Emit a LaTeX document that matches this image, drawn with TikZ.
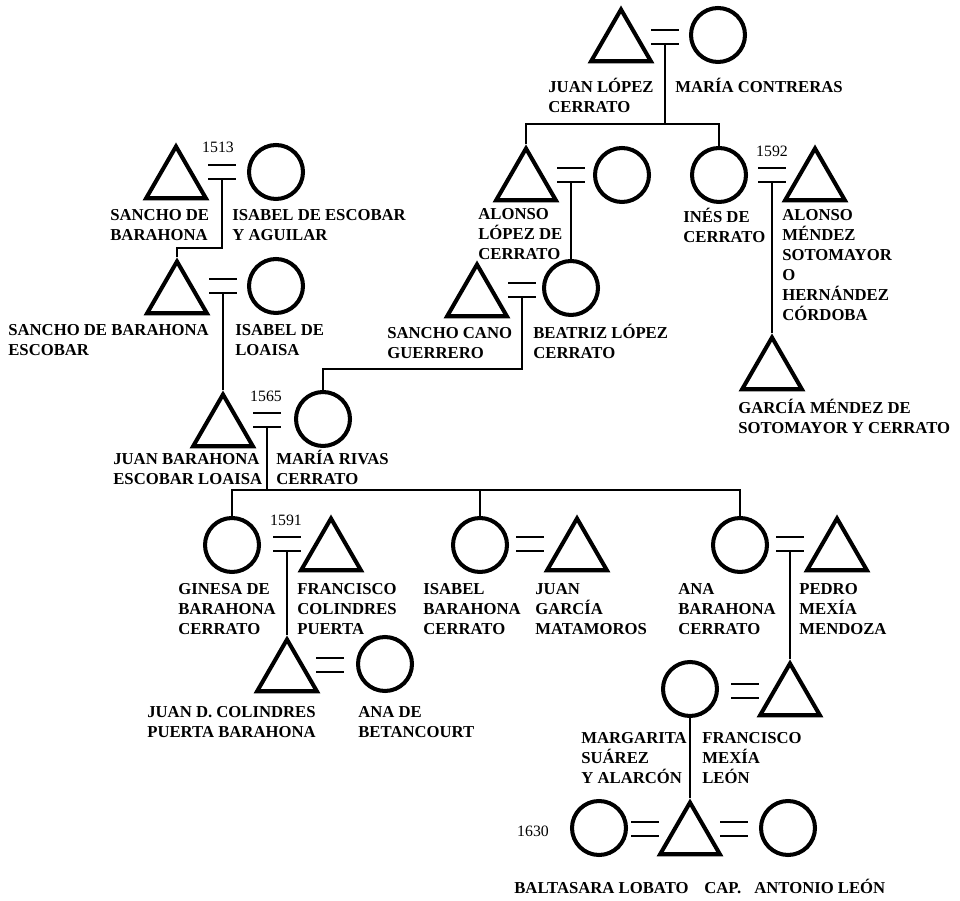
\documentclass[tikz,border=0pt]{standalone}
\usepackage{fontspec}
\setmainfont{Liberation Serif}
\usetikzlibrary{shapes.geometric}
\newcommand{\namefont}{\fontsize{9.5}{11.4}\selectfont\bfseries}
\newcommand{\wed}[3]{% name, x, y
  \coordinate (#1) at (#2,#3);
  \draw [wedline] ([shift={(-14,-7)}]#1) -- ++(28,0);
  \draw [wedline] ([shift={(-14,7)}]#1) -- ++(28,0);
  \coordinate (#1-d) at ([shift={(0,7)}]#1);}

\begin{document}
\begin{tikzpicture}[x=0.02cm,y=-0.02cm,
    male/.style={regular polygon,regular polygon sides=3,draw,line width=2.3pt,minimum size=1.38cm,inner sep=0pt},
    female/.style={circle,draw,line width=2.3pt,minimum size=1.08cm,inner sep=0pt},
    rel/.style={line width=1.1pt},
    wedline/.style={line width=1.6pt},
    who/.style={anchor=base west,align=left,inner sep=0pt,font=\namefont},
    year/.style={inner sep=0pt,font=\fontsize{9}{10}\selectfont}]
    \useasboundingbox (0,0) rectangle (960,901);

    %Lopez Cerrato
    \node [male] (jlc) at (621,44){};
    \node [female] (mco) at (718,35){};
    \wed{w0}{665}{37}
    \node [who] at (548,112.5){JUAN LÓPEZ\\CERRATO};
    \node [who] at (675,92.5){MARÍA CONTRERAS};
    \node [male] (alc) at (526,183){};
    \node [female] (alw) at (622,175){};
    \wed{w1}{571}{175}
    \node [female] (ine) at (719,175){};
    \wed{w2}{772}{175}
    \node [year] at (772,151){1592};
    \node [male] (ams) at (815,183){};
    \draw [rel] (w0-d) -- ++(0,80) coordinate (bar0);
    \draw [rel] (alc.north) |- (bar0) -| (ine.north);
    \node [who] at (478,259.5){ALONSO\\LÓPEZ DE\\CERRATO};
    \node [who] at (683,242.5){INÉS DE\\CERRATO};
    \node [who] at (782,320.5){ALONSO\\MÉNDEZ\\SOTOMAYOR\\O\\HERNÁNDEZ\\CÓRDOBA};
    \node [male] (scg) at (477,299){};
    \node [female] (blc) at (571,288){};
    \wed{w6}{522}{290}
    \draw [rel] (w1-d) -- (blc.north);
    \node [who] at (387,358.5){SANCHO CANO\\GUERRERO};
    \node [who] at (533,358.5){BEATRIZ LÓPEZ\\CERRATO};
    \node [male] (gms) at (772,372){};
    \draw [rel] (w2-d) -- (gms.north);
    \node [who] at (738,433.5){GARCÍA MÉNDEZ DE\\SOTOMAYOR Y CERRATO};

    %Barahona
    \node [male] (sdb) at (176,181){};
    \node [female] (iea) at (276,172){};
    \wed{w3}{222}{172}
    \node [year] at (218,147){1513};
    \node [who] at (110,240.5){SANCHO DE\\BARAHONA};
    \node [who] at (232,240.5){ISABEL DE ESCOBAR\\Y AGUILAR};
    \node [male] (sbe) at (177,296){};
    \node [female] (ilo) at (276,286){};
    \wed{w4}{223}{286}
    \draw [rel] (w3-d) -- ++(0,69) -| (sbe.north);
    \node [who] at (8,355.5){SANCHO DE BARAHONA\\ESCOBAR};
    \node [who] at (235,355.5){ISABEL DE\\LOAISA};
    \node [male] (jbe) at (223,429){};
    \node [female] (mrc) at (323,419){};
    \wed{w5}{267}{420}
    \node [year] at (266,396){1565};
    \draw [rel] (w4-d) -- (jbe.north);
    \draw [rel] (w6-d) -- ++(0,72) -| (mrc.north);
    \node [who] at (113,484.5){JUAN BARAHONA\\ESCOBAR LOAISA};
    \node [who] at (276,484.5){MARÍA RIVAS\\CERRATO};

    %children
    \node [female] (gbc) at (232,545){};
    \node [male] (fcp) at (331,553){};
    \wed{w7}{287}{544}
    \node [year] at (286,520){1591};
    \node [female] (ibc) at (480,545){};
    \node [male] (jgm) at (577,553){};
    \wed{w9}{530}{544}
    \node [female] (abc) at (740,545){};
    \node [male] (pmm) at (837,553){};
    \wed{w10}{790}{544}
    \draw [rel] (w5-d) -- ++(0,63) coordinate (bar5);
    \draw [rel] (gbc.north) |- (bar5) -| (abc.north);
    \draw [rel] (ibc.north) -- (ibc.north |- bar5);
    \node [who] at (178,634.5){GINESA DE\\BARAHONA\\CERRATO};
    \node [who] at (297,634.5){FRANCISCO\\COLINDRES\\PUERTA};
    \node [who] at (423,634.5){ISABEL\\BARAHONA\\CERRATO};
    \node [who] at (535,634.5){JUAN\\GARCÍA\\MATAMOROS};
    \node [who] at (678,634.5){ANA\\BARAHONA\\CERRATO};
    \node [who] at (799,634.5){PEDRO\\MEXÍA\\MENDOZA};

    %Colindres
    \node [male] (jdc) at (287,674){};
    \node [female] (adb) at (385,664){};
    \wed{w8}{330}{665}
    \draw [rel] (w7-d) -- (jdc.north);
    \node [who] at (147,737.5){JUAN D. COLINDRES\\PUERTA BARAHONA};
    \node [who] at (358,737.5){ANA DE\\BETANCOURT};

    %Mexia
    \node [female] (msa) at (690,689){};
    \node [male] (fml) at (790,698){};
    \wed{w11}{745}{691}
    \draw [rel] (w10-d) -- (fml.north);
    \node [who] at (581,783.5){MARGARITA\\SUÁREZ\\Y ALARCÓN};
    \node [who] at (702,783.5){FRANCISCO\\MEXÍA\\LEÓN};

    %Leon
    \node [female] (bal) at (599,828){};
    \node [male] (cap) at (690,837){};
    \node [female] (ant) at (788,828){};
    \wed{w12}{645}{829}
    \wed{w13}{734}{829}
    \node [year] at (533,831){1630};
    \draw [rel] (msa.south) -- (cap.north);
    \node [who] at (514,893.5){BALTASARA LOBATO};
    \node [who] at (704,893.5){CAP.};
    \node [who] at (754,893.5){ANTONIO LEÓN};
\end{tikzpicture}
\end{document}
